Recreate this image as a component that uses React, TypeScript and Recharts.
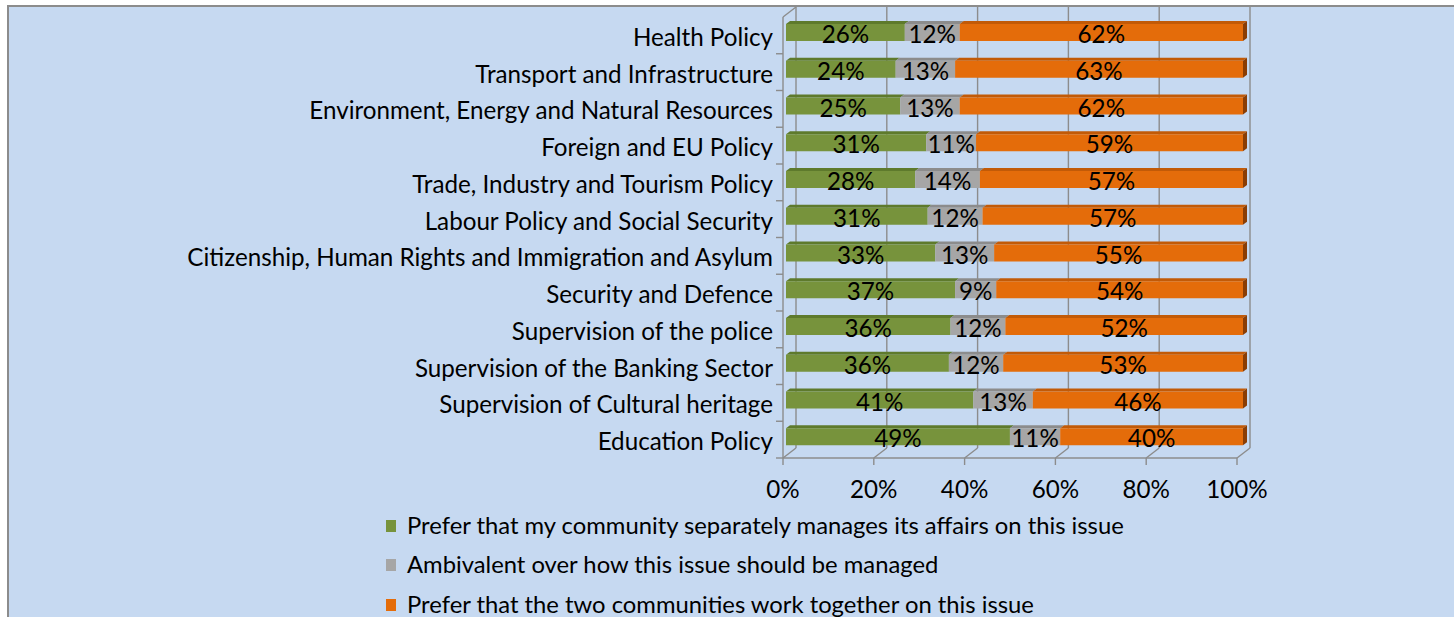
import React from 'react';
import * as R from 'recharts';
import { BarChart, Bar, XAxis, YAxis, LabelList, Legend } from 'recharts';

const categories = [
  'Health Policy',
  'Transport and Infrastructure',
  'Environment, Energy and Natural Resources',
  'Foreign and EU Policy',
  'Trade, Industry and Tourism Policy',
  'Labour Policy and Social Security',
  'Citizenship, Human Rights and Immigration and Asylum',
  'Security and Defence',
  'Supervision of the police',
  'Supervision of the Banking Sector',
  'Supervision of Cultural heritage',
  'Education Policy',
];
const separately = [26, 24, 25, 31, 28, 31, 33, 37, 36, 36, 41, 49];
const ambivalent = [12, 13, 13, 11, 14, 12, 13, 9, 12, 12, 13, 11];
const together = [62, 63, 62, 59, 57, 57, 55, 54, 52, 53, 46, 40];
const seriesKeys = ['sep', 'amb', 'tog'];
const seriesNames = [
  'Prefer that my community separately manages its affairs on this issue',
  'Ambivalent over how this issue should be managed',
  'Prefer that the two communities work together on this issue',
];
const xTicks = [0, 0.2, 0.4, 0.6, 0.8, 1];

const COLORS = ['#77933C', '#A6A6A6', '#E46C0A'];
const TOP_COLORS = ['#5E7A2C', '#8C8C8C', '#C25A07'];
const SIDE_COLOR = '#8A3D04';
const FONT = "Lato, 'Open Sans', sans-serif";
const FS = 24.2;
const LFS = 23.8;
const GRID = '#8C8C8C';

const data = categories.map((c, i) => ({
  category: c,
  sep: separately[i],
  amb: ambivalent[i],
  tog: together[i],
}));

const DX = 4;
const DY = 3;

function makeShape(idx: number) {
  return (props: any) => {
    const { x, y, width, height } = props;
    if (width == null || height == null) return null;
    return (
      <g>
        <path
          d={`M${x},${y} L${x + DX},${y - DY} L${x + width + DX},${y - DY} L${x + width},${y} Z`}
          fill={TOP_COLORS[idx]}
        />
        {idx === 2 && (
          <path
            d={`M${x + width},${y} L${x + width + DX},${y - DY} L${x + width + DX},${y + height - DY} L${x + width},${y + height} Z`}
            fill={SIDE_COLOR}
          />
        )}
        <rect x={x} y={y} width={width} height={height} fill={COLORS[idx]} />
      </g>
    );
  };
}

const usePlotAreaSafe: () => any = (R as any).usePlotArea ?? (() => undefined);

function Frame3D() {
  const pa = usePlotAreaSafe() ?? { x: 786, y: 14, width: 457, height: 441 };
  const fx = (v: number) => pa.x - 3 + v * (pa.width - 3);
  const bx = (v: number) => fx(v) + 13;
  const fy0 = pa.y + 3;
  const fy1 = pa.y + pa.height + 3;
  const by0 = fy0 - 10;
  const by1 = fy1 - 10;
  const n = categories.length;
  const lines: React.ReactNode[] = [];
  xTicks.forEach((v, i) => {
    lines.push(<line key={`b${i}`} x1={bx(v)} y1={by0} x2={bx(v)} y2={by1} />);
    lines.push(<line key={`d${i}`} x1={fx(v)} y1={fy1} x2={bx(v)} y2={by1} />);
    lines.push(<line key={`t${i}`} x1={fx(v)} y1={fy1} x2={fx(v)} y2={fy1 + 7} />);
  });
  for (let i = 1; i <= n; i++) {
    const y = fy0 + (i * pa.height) / n;
    lines.push(<line key={`l${i}`} x1={fx(0) - 7} y1={y} x2={fx(0)} y2={y} />);
  }
  lines.push(<line key="ff" x1={fx(0)} y1={fy1} x2={fx(1)} y2={fy1} />);
  lines.push(<line key="fl" x1={fx(0)} y1={fy0} x2={fx(0)} y2={fy1} />);
  lines.push(<line key="td" x1={fx(0)} y1={fy0} x2={bx(0)} y2={by0} />);
  return (
    <g stroke={GRID} strokeWidth={1.4} fill="none">
      {lines}
    </g>
  );
}

const YTick = (props: any) => {
  const { x, y, payload } = props;
  return (
    <text x={x} y={y + 13.5} textAnchor="end" fontFamily={FONT} fontSize={FS} fill="#000">
      {payload.value}
    </text>
  );
};

const XTick = (props: any) => {
  const { x, y, payload } = props;
  const v = Number(payload.value);
  return (
    <text x={x - 3 - 3 * v} y={y + 43} textAnchor="middle" fontFamily={FONT} fontSize={FS} fill="#000">
      {`${Math.round(v * 100)}%`}
    </text>
  );
};

const BarLabel = (props: any) => {
  const { x, y, width, height, value } = props;
  if (x == null || width == null) return null;
  return (
    <text
      x={x + width / 2}
      y={y + height / 2 + 10.5}
      textAnchor="middle"
      fontFamily={FONT}
      fontSize={FS}
      fill="#000"
    >
      {`${value}%`}
    </text>
  );
};

const LegendContent = () => (
  <div style={{ fontFamily: FONT, fontSize: LFS, color: '#000', lineHeight: 1 }}>
    {seriesNames.map((name, i) => (
      <div key={name} style={{ display: 'flex', alignItems: 'center', height: 39.5, whiteSpace: 'nowrap' }}>
        <span
          style={{ display: 'inline-block', width: 10, height: 12, background: COLORS[i], marginRight: 11 }}
        />
        <span>{name}</span>
      </div>
    ))}
  </div>
);

export default function App() {
  return (
    <div
      style={{
        position: 'absolute',
        left: 0,
        top: 0,
        width: 1454,
        height: 617,
        overflow: 'hidden',
        background: '#fff',
      }}
    >
      <div
        style={{
          position: 'absolute',
          left: 7,
          top: 5,
          width: 1500,
          height: 700,
          background: '#C6D9F1',
          borderTop: '2px solid #8C8C8C',
          borderLeft: '2px solid #8C8C8C',
        }}
      />
      <div style={{ position: 'absolute', left: 0, top: 0 }}>
        <BarChart
          width={1454}
          height={617}
          data={data}
          layout="vertical"
          stackOffset="expand"
          barSize={17}
          margin={{ top: 14, right: 211, bottom: 112, left: 0 }}
        >
          <Frame3D />
          <XAxis
            type="number"
            domain={[0, 1]}
            ticks={xTicks}
            axisLine={false}
            tickLine={false}
            tickSize={0}
            tickMargin={0}
            height={50}
            tick={<XTick />}
            interval={0}
          />
          <YAxis
            type="category"
            dataKey="category"
            width={786}
            axisLine={false}
            tickLine={false}
            tickSize={0}
            tickMargin={13}
            tick={<YTick />}
            interval={0}
          />
          {seriesKeys.map((k, i) => (
            <Bar
              key={k}
              dataKey={k}
              name={seriesNames[i]}
              stackId="a"
              fill={COLORS[i]}
              shape={makeShape(i)}
              isAnimationActive={false}
            >
              <LabelList dataKey={k} content={<BarLabel />} />
            </Bar>
          ))}
          <Legend
            layout="vertical"
            align="center"
            verticalAlign="middle"
            content={<LegendContent />}
            wrapperStyle={{ left: 386, top: 506, width: 900 }}
          />
        </BarChart>
      </div>
    </div>
  );
}
